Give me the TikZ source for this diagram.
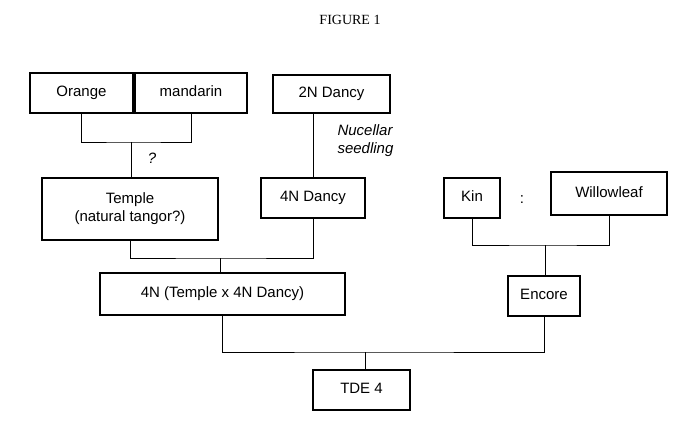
\documentclass[tikz,border=0pt]{standalone}
\usepackage{fontspec}
\setmainfont{Liberation Sans}
\newfontfamily\seriff{Liberation Serif}
\begin{document}
\begin{tikzpicture}[x=1pt,y=-1pt,
  bx/.style={draw,line width=1.3pt,inner sep=0pt,align=center,font=\fontsize{15}{18}\selectfont},
  sl/.style={text height=11pt,text depth=3.5pt},
  ln/.style={line width=0.8pt}]
\useasboundingbox (0,0) rectangle (700,437);
\node[font=\seriff\fontsize{14}{16}\selectfont] (title) at (350,20) {FIGURE 1};
\node[bx,sl,minimum width=103pt,minimum height=40pt] (orange) at (81.5,93) {Orange};
\node[bx,sl,minimum width=112pt,minimum height=40pt] (mand) at (191,93) {mandarin};
\node[bx,sl,minimum width=117pt,minimum height=38pt] (d2) at (331.5,94) {2N Dancy};
\node[bx,minimum width=176pt,minimum height=62pt] (temple) at (130,209) {Temple\\(natural tangor?)};
\node[bx,sl,minimum width=104pt,minimum height=40pt] (d4) at (313,198) {4N Dancy};
\node[bx,sl,minimum width=56pt,minimum height=40pt] (kin) at (472,198) {Kin};
\node[bx,sl,minimum width=116pt,minimum height=43pt] (will) at (609,193.5) {Willowleaf};
\node[bx,sl,minimum width=245pt,minimum height=42pt] (tx) at (222.5,294) {4N (Temple x 4N Dancy)};
\node[bx,sl,minimum width=72pt,minimum height=40pt] (enc) at (544,296) {Encore};
\node[bx,sl,minimum width=97pt,minimum height=40pt] (tde) at (361.5,390) {TDE 4};
\node[font=\itshape\fontsize{15}{18}\selectfont,align=left,anchor=west] (nuc) at (334,141) {Nucellar\\seedling};
\node[font=\itshape\fontsize{15}{18}\selectfont] (q) at (152,158) {?};
\node[font=\fontsize{15}{18}\selectfont] (colon) at (522,200) {:};
\coordinate (j1) at (131,142);
\coordinate (j2) at (220,258);
\coordinate (j3) at (545,245);
\coordinate (j4) at (365,352);
\draw[ln] (orange.south) |- (j1) -| (mand.south);
\draw[ln] (j1) -- (temple.north -| j1);
\draw[ln] (d2.south -| d4.north) -- (d4.north);
\draw[ln] (temple.south) |- (j2) -| (d4.south);
\draw[ln] (j2) -- (tx.north -| j2);
\draw[ln] (kin.south) |- (j3) -| (will.south);
\draw[ln] (j3) -- (enc.north -| j3);
\draw[ln] (tx.south) |- (j4) -| (enc.south);
\draw[ln] (j4) -- (tde.north -| j4);
\end{tikzpicture}
\end{document}
